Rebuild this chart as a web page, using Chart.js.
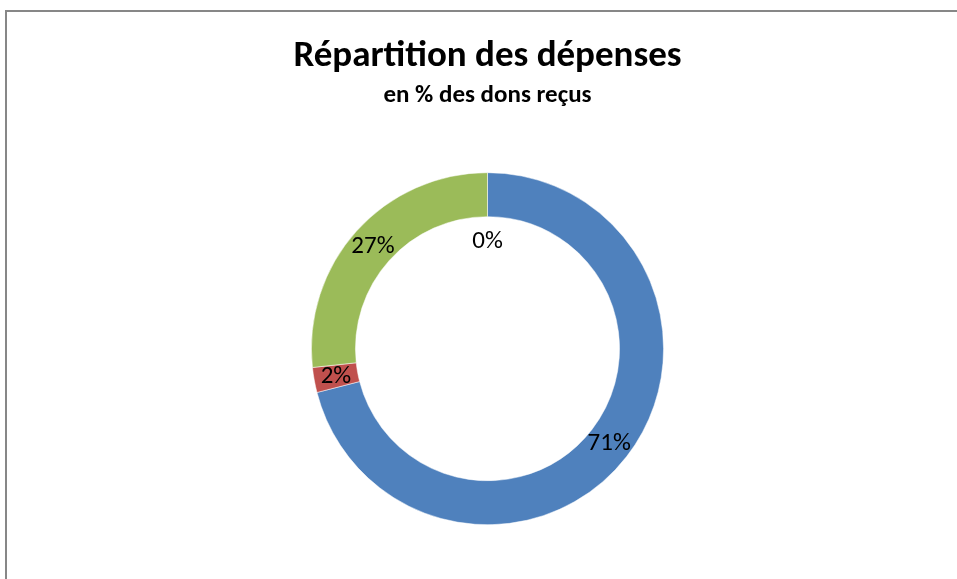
<!DOCTYPE html>
<html>
<head>
<meta charset="utf-8">
<script src="https://cdn.jsdelivr.net/npm/chart.js@4.4.1/dist/chart.umd.min.js"></script>
<style>
html,body{margin:0;padding:0;background:#fff;}
#wrap{width:957px;height:579px;position:relative;}
</style>
</head>
<body>
<div id="wrap"><canvas id="c" width="957" height="579"></canvas></div>
<script>
const categories = ["Missions sociales", "Frais de fonctionnement", "Frais de recherche de fonds", "Autres"];
const values = [71.0, 2.3, 26.7, 0];
const labelsText = ["71%", "2%", "27%", "0%"];
const colors = ["#4F81BD", "#C0504D", "#9BBB59", "#8064A2"];
const titleText = "Répartition des dépenses";
const subtitleText = "en % des dons reçus";

const FONT = "Carlito, Calibri, Lato, 'Open Sans', sans-serif";

const framePlugin = {
  id: 'frame',
  beforeDraw(chart) {
    const ctx = chart.ctx;
    ctx.save();
    ctx.fillStyle = '#fff';
    ctx.fillRect(0, 0, chart.width, chart.height);
    ctx.strokeStyle = '#878787';
    ctx.lineWidth = 2;
    ctx.beginPath();
    ctx.moveTo(6, chart.height + 5);
    ctx.lineTo(6, 11);
    ctx.lineTo(chart.width + 5, 11);
    ctx.stroke();
    ctx.restore();
  }
};

const labelPlugin = {
  id: 'sliceLabels',
  afterDatasetsDraw(chart) {
    const ctx = chart.ctx;
    const meta = chart.getDatasetMeta(0);
    ctx.save();
    ctx.fillStyle = '#000';
    ctx.font = "25px " + FONT;
    ctx.textAlign = 'center';
    ctx.textBaseline = 'middle';
    meta.data.forEach((arc, i) => {
      const p = arc.getProps(['x','y','startAngle','endAngle','innerRadius','outerRadius'], true);
      const mid = (p.startAngle + p.endAngle) / 2;
      let r = (p.innerRadius + p.outerRadius) / 2;
      if (values[i] === 0) r = p.innerRadius - 24;
      ctx.fillText(labelsText[i], p.x + Math.cos(mid) * r, p.y + Math.sin(mid) * r + 1);
    });
    ctx.restore();
  }
};

new Chart(document.getElementById('c'), {
  type: 'doughnut',
  data: {
    labels: categories,
    datasets: [{
      data: values,
      backgroundColor: colors,
      borderColor: '#ffffff',
      borderWidth: 0.5,
      cutout: '75%'
    }]
  },
  options: {
    responsive: false,
    animation: false,
    layout: { padding: { left: 18, right: 0, top: 0, bottom: 54 } },
    plugins: {
      legend: { display: false },
      tooltip: { enabled: false },
      title: {
        display: true,
        text: titleText,
        color: '#000',
        font: { family: FONT, size: 37, weight: 'bold', lineHeight: 1.2 },
        padding: { top: 35, bottom: 0 }
      },
      subtitle: {
        display: true,
        text: subtitleText,
        color: '#000',
        font: { family: FONT, size: 25, weight: 'bold', lineHeight: 1.2 },
        padding: { top: 1, bottom: 62 }
      }
    }
  },
  plugins: [framePlugin, labelPlugin]
});
</script>
</body>
</html>
